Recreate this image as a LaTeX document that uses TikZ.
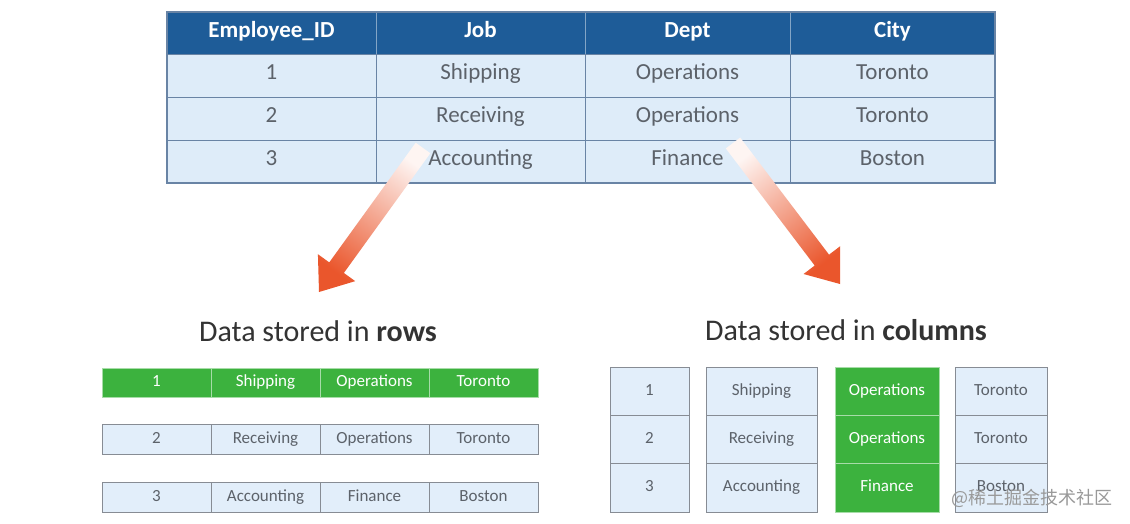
\documentclass[tikz,border=0pt]{standalone}
\usepackage{fontspec}
\setmainfont{Carlito}
\newfontfamily\cjkfont{Noto Sans CJK SC}
\usetikzlibrary{calc}

% 渐变粗箭头：起点, 终点, 渐变角度
\newcommand{\fadearrow}[3]{%
  \path ($(#2)!30pt!(#1)$) coordinate (hb);
  \shade[top color=arrowred!6, bottom color=arrowred, shading angle=#3]
    ($(#1)!9pt!90:(#2)$) -- ($(hb)!9pt!-90:(#1)$) -- ($(hb)!23pt!-90:(#1)$) -- (#2)
    -- ($(hb)!23pt!90:(#1)$) -- ($(hb)!9pt!90:(#1)$) -- ($(#1)!9pt!-90:(#2)$) -- cycle;
}

\begin{document}
\begin{tikzpicture}[x=1pt, y=-1pt,
  hdcell/.style={draw=hdblue!55!white, fill=hdblue, text=white, inner sep=0pt,
    font=\fontsize{23}{26}\selectfont\bfseries, minimum height=42, text height=1.9ex, text depth=.2ex},
  tabcell/.style={draw=tabline, fill=rowblue, text=txtgray, inner sep=0pt,
    font=\fontsize{23}{26}\selectfont, minimum height=43, text height=1.9ex, text depth=.2ex},
  rowcell/.style={draw=cellline, fill=cellblue, text=txtgray, inner sep=0pt,
    font=\fontsize{17}{20}\selectfont, text height=1.9ex, text depth=.2ex},
  hotcell/.style={rowcell, draw=stgreen!45!white, fill=stgreen, text=white},
  title/.style={font=\fontsize{30}{34}\selectfont, text=black!80}]
  \definecolor{hdblue}{RGB}{30, 92, 152}
  \definecolor{rowblue}{RGB}{222, 236, 249}
  \definecolor{tabline}{RGB}{105, 132, 165}
  \definecolor{cellblue}{RGB}{226, 238, 250}
  \definecolor{cellline}{RGB}{135, 140, 148}
  \definecolor{stgreen}{RGB}{60, 178, 62}
  \definecolor{txtgray}{RGB}{92, 98, 106}
  \definecolor{arrowred}{RGB}{234, 86, 44}

  \fill[white] (0,0) rectangle (1130,524);
  \useasboundingbox (0,0) rectangle (1130,524);

  % 原始表
  \foreach \cx/\w/\txt [count=\i] in {271.5/209/Employee\_ID, 480.5/209/Job, 687.5/205/Dept, 892.5/205/City}
    \node[hdcell, minimum width=\w] (h\i) at (\cx,33) {\txt};
  \foreach \cy/\a/\b/\c/\d [count=\r] in {75.5/1/Shipping/Operations/Toronto,
      118.5/2/Receiving/Operations/Toronto, 161.5/3/Accounting/Finance/Boston} {
    \node[tabcell, minimum width=209] (c\r1) at (271.5,\cy) {\a};
    \node[tabcell, minimum width=209] (c\r2) at (480.5,\cy) {\b};
    \node[tabcell, minimum width=205] (c\r3) at (687.5,\cy) {\c};
    \node[tabcell, minimum width=205] (c\r4) at (892.5,\cy) {\d};
  }
  \draw[tabline, line width=1.6pt] (h1.north west) rectangle (c34.south east);

  % 箭头
  \coordinate (rowtail) at (423,148);
  \coordinate (rowtip) at (319,292);
  \coordinate (coltail) at (733,143);
  \coordinate (coltip) at (840,284);
  \fadearrow{rowtail}{rowtip}{-36}
  \fadearrow{coltail}{coltip}{38}

  % 行存储
  \node[title] (rowtitle) at (318,331) {Data stored in \textbf{rows}};
  \node[hotcell, minimum width=109, minimum height=29] (r11) at (156.5,382.5) {1};
  \node[hotcell, minimum width=109, minimum height=29] (r12) at (265.5,382.5) {Shipping};
  \node[hotcell, minimum width=109, minimum height=29] (r13) at (374.5,382.5) {Operations};
  \node[hotcell, minimum width=109, minimum height=29] (r14) at (483.5,382.5) {Toronto};
  \foreach \cy/\a/\b/\c/\d [count=\r from 2] in {439.5/2/Receiving/Operations/Toronto,
      497/3/Accounting/Finance/Boston} {
    \node[rowcell, minimum width=109, minimum height=30] (r\r1) at (156.5,\cy) {\a};
    \node[rowcell, minimum width=109, minimum height=30] (r\r2) at (265.5,\cy) {\b};
    \node[rowcell, minimum width=109, minimum height=30] (r\r3) at (374.5,\cy) {\c};
    \node[rowcell, minimum width=109, minimum height=30] (r\r4) at (483.5,\cy) {\d};
  }

  % 列存储
  \node[title] (coltitle) at (846,330) {Data stored in \textbf{columns}};
  \foreach \k/\cx/\w/\a/\b/\c in {1/649.5/79/1/2/3, 2/761.5/111/Shipping/Receiving/Accounting,
      4/1001/92/Toronto/Toronto/Boston} {
    \node[rowcell, minimum width=\w, minimum height=48.3] (k1\k) at (\cx,391.2) {\a};
    \node[rowcell, minimum width=\w, minimum height=48.3] (k2\k) at (\cx,439.5) {\b};
    \node[rowcell, minimum width=\w, minimum height=48.3] (k3\k) at (\cx,487.8) {\c};
  }
  \node[hotcell, minimum width=104, minimum height=48.3] (k13) at (887,391.2) {Operations};
  \node[hotcell, minimum width=104, minimum height=48.3] (k23) at (887,439.5) {Operations};
  \node[hotcell, minimum width=104, minimum height=48.3] (k33) at (887,487.8) {Finance};

  % 水印
  \node[font=\cjkfont\fontsize{18}{20}\selectfont, text=black!40] (mark) at (1032,498) {@稀土掘金技术社区};
\end{tikzpicture}
\end{document}
